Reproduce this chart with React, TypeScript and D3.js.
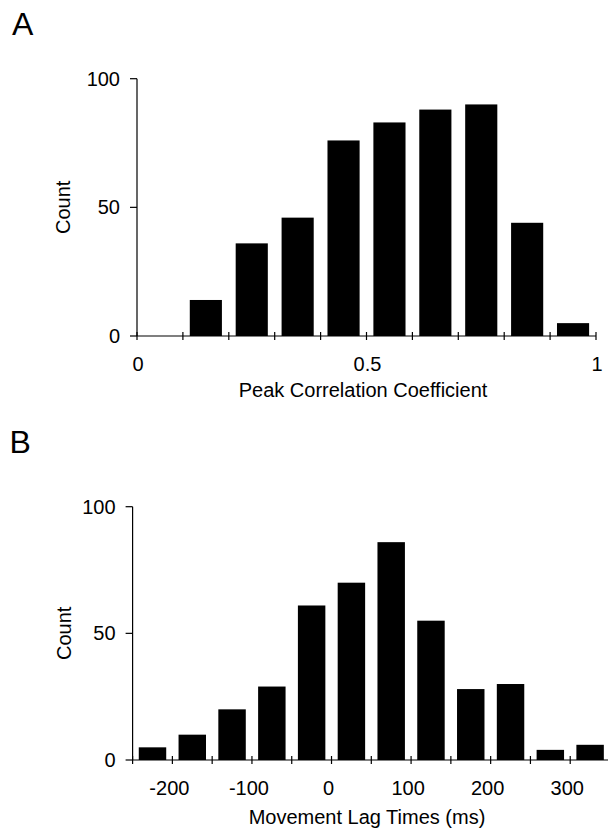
import React from "react";
import * as d3 from "d3";

// Panel A: distribution of peak correlation coefficients (bins of 0.1)
const corrBinStarts = [0, 0.1, 0.2, 0.3, 0.4, 0.5, 0.6, 0.7, 0.8, 0.9];
const corrCounts = [0, 14, 36, 46, 76, 83, 88, 90, 44, 5];
const corrTicks = [0, 0.1, 0.2, 0.3, 0.4, 0.5, 0.6, 0.7, 0.8, 0.9, 1];
const corrTickLabels = [
  { value: 0, text: "0" },
  { value: 0.5, text: "0.5" },
  { value: 1, text: "1" },
];

// Panel B: distribution of movement lag times (bins of 50 ms)
const lagBinStarts = [-250, -200, -150, -100, -50, 0, 50, 100, 150, 200, 250, 300];
const lagCounts = [5, 10, 20, 29, 61, 70, 86, 55, 28, 30, 4, 6];
const lagTicks = [-250, -200, -150, -100, -50, 0, 50, 100, 150, 200, 250, 300];
const lagTickLabels = [
  { value: -200, text: "-200" },
  { value: -100, text: "-100" },
  { value: 0, text: "0" },
  { value: 100, text: "100" },
  { value: 200, text: "200" },
  { value: 300, text: "300" },
];

const countTicks = [0, 50, 100];

const FONT = "'Liberation Sans', Arial, Helvetica, sans-serif";

type PanelProps = {
  letter: string;
  letterY: number;
  letterX: number;
  x: d3.ScaleLinear<number, number>;
  y: d3.ScaleLinear<number, number>;
  binStarts: number[];
  binWidth: number;
  counts: number[];
  ticks: number[];
  tickLabels: { value: number; text: string }[];
  labelDx: number;
  xTitle: string;
  xTitleX: number;
  xTitleDy: number;
  yTitleX: number;
  barFrac: number;
};

function Panel(p: PanelProps) {
  const [x0, x1] = p.x.range();
  const [yBase, yTop] = p.y.range();
  const axisX = x0;
  const yMid = (yBase + yTop) / 2;
  return (
    <g>
      <text x={p.letterX} y={p.letterY} fontSize={32} fontFamily={FONT} fill="#000">
        {p.letter}
      </text>

      {/* bars */}
      {p.counts.map((c, i) => {
        const left = p.x(p.binStarts[i]);
        const right = p.x(p.binStarts[i] + p.binWidth);
        const w = (right - left) * p.barFrac;
        const cx = (left + right) / 2;
        if (c <= 0) return null;
        return (
          <rect
            key={i}
            x={cx - w / 2}
            y={p.y(c)}
            width={w}
            height={p.y(0) - p.y(c)}
            fill="#000"
          />
        );
      })}

      {/* y axis */}
      <line x1={axisX} x2={axisX} y1={yTop} y2={yBase} stroke="#000" strokeWidth={1.2} />
      {countTicks.map((t) => (
        <g key={t}>
          <line x1={axisX - 7} x2={axisX} y1={p.y(t)} y2={p.y(t)} stroke="#000" strokeWidth={1.2} />
          <text
            x={axisX - 17}
            y={p.y(t)}
            dy="0.35em"
            textAnchor="end"
            fontSize={20}
            fontFamily={FONT}
            fill="#000"
          >
            {t}
          </text>
        </g>
      ))}
      <text
        transform={`translate(${p.yTitleX},${yMid}) rotate(-90)`}
        textAnchor="middle"
        fontSize={20}
        fontFamily={FONT}
        fill="#000"
      >
        Count
      </text>

      {/* x axis */}
      <line x1={x0} x2={x1} y1={yBase} y2={yBase} stroke="#000" strokeWidth={1.2} />
      {p.ticks.map((t) => (
        <line
          key={t}
          x1={p.x(t)}
          x2={p.x(t)}
          y1={yBase - 4}
          y2={yBase + 4}
          stroke="#000"
          strokeWidth={1.2}
        />
      ))}
      {p.tickLabels.map((l) => (
        <text
          key={l.value}
          x={p.x(l.value) + p.labelDx}
          y={yBase + 35}
          textAnchor="middle"
          fontSize={20}
          fontFamily={FONT}
          fill="#000"
        >
          {l.text}
        </text>
      ))}
      <text
        x={p.xTitleX}
        y={yBase + p.xTitleDy}
        textAnchor="middle"
        fontSize={20}
        fontFamily={FONT}
        fill="#000"
      >
        {p.xTitle}
      </text>
    </g>
  );
}

export default function App() {
  const xA = d3.scaleLinear().domain([0, 1]).range([137, 596]);
  const yA = d3.scaleLinear().domain([0, 100]).range([336, 78.7]);
  const xB = d3.scaleLinear().domain([-250, 350]).range([132.6, 610]);
  const yB = d3.scaleLinear().domain([0, 100]).range([760, 506.7]);

  return (
    <svg
      width={608}
      height={829}
      style={{ position: "absolute", left: 0, top: 0, background: "#fff" }}
    >
      <rect width={608} height={829} fill="#fff" />
      <Panel
        letter="A"
        letterX={12}
        letterY={35}
        x={xA}
        y={yA}
        binStarts={corrBinStarts}
        binWidth={0.1}
        counts={corrCounts}
        ticks={corrTicks}
        tickLabels={corrTickLabels}
        labelDx={1}
        xTitle="Peak Correlation Coefficient"
        xTitleX={363}
        xTitleDy={61}
        yTitleX={70}
        barFrac={0.7}
      />
      <Panel
        letter="B"
        letterX={9.5}
        letterY={453}
        x={xB}
        y={yB}
        binStarts={lagBinStarts}
        binWidth={50}
        counts={lagCounts}
        ticks={lagTicks}
        tickLabels={lagTickLabels}
        labelDx={-3}
        xTitle="Movement Lag Times (ms)"
        xTitleX={367}
        xTitleDy={63.5}
        yTitleX={71}
        barFrac={0.69}
      />
    </svg>
  );
}
